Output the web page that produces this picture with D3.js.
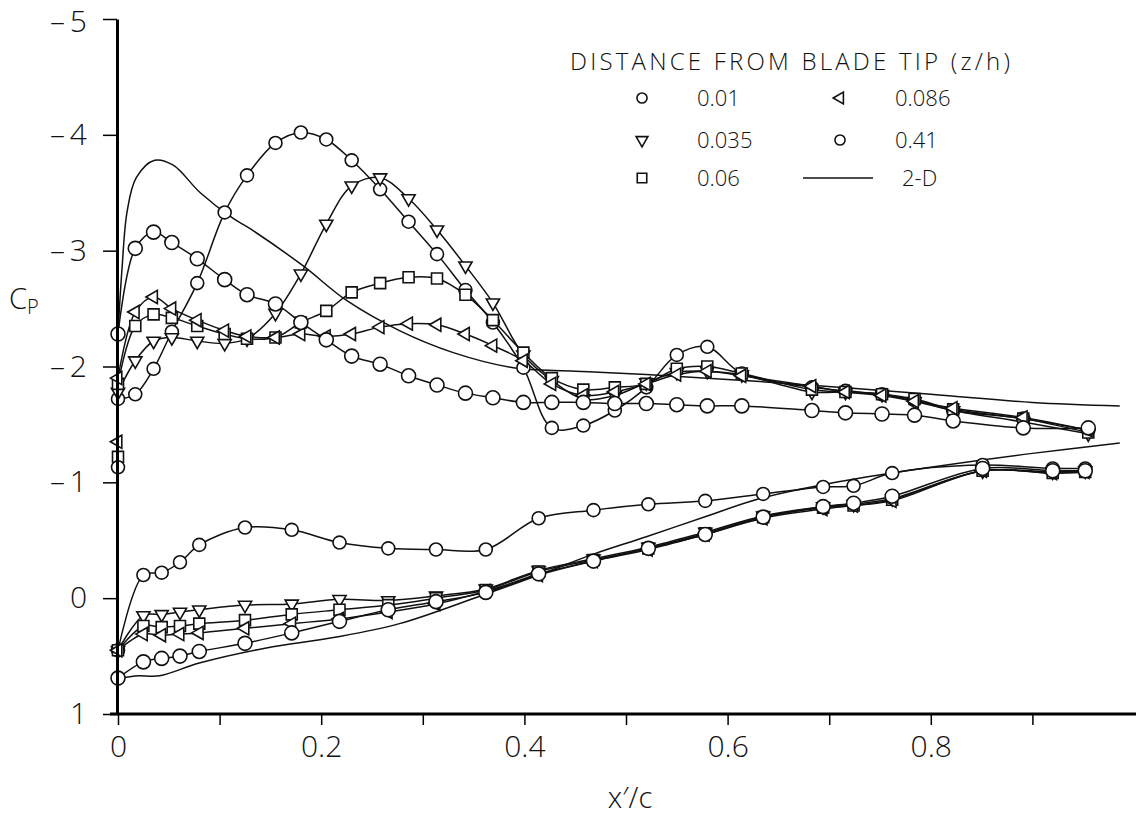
<!DOCTYPE html>
<html>
<head>
<meta charset="utf-8">
<script src="https://cdn.jsdelivr.net/npm/d3@7"></script>
<style>
  body { margin: 0; background: #fff; }
  svg text { font-family: "Open Sans", "DejaVu Sans", sans-serif; font-weight: 300; fill: #111; }
</style>
</head>
<body>
<div id="chart"></div>
<script>
// ---- data ----
const xTickValues = [0, 0.1, 0.2, 0.3, 0.4, 0.5, 0.6, 0.7, 0.8, 0.9];
const xTickLabels = ["0", "0.2", "0.4", "0.6", "0.8"];
const yTickValues = [-5, -4, -3, -2, -1, 0, 1];

// suction side stations
const upperX = [0, 0.017, 0.035, 0.053, 0.078, 0.105, 0.127, 0.155, 0.18, 0.205, 0.23, 0.258, 0.286, 0.314, 0.342, 0.369, 0.399, 0.427, 0.458, 0.489, 0.52, 0.55, 0.58, 0.614, 0.683, 0.716, 0.752, 0.784, 0.822, 0.891, 0.955];
const cp001Upper = [-1.72, -1.76, -1.98, -2.3, -2.72, -3.33, -3.65, -3.93, -4.02, -3.96, -3.78, -3.53, -3.25, -2.97, -2.66, -2.38, -1.99, -1.47, -1.49, -1.62, -1.82, -2.1, -2.17, -1.94, -1.82, -1.79, -1.76, -1.71, -1.62, -1.55, -1.45];
const cp035Upper = [-1.78, -2.05, -2.22, -2.25, -2.22, -2.2, -2.24, -2.46, -2.8, -3.23, -3.56, -3.63, -3.45, -3.18, -2.87, -2.55, -2.1, -1.88, -1.72, -1.75, -1.86, -1.95, -1.96, -1.93, -1.78, -1.78, -1.76, -1.7, -1.62, -1.52, -1.42];
const cp06Upper = [-1.85, -2.35, -2.45, -2.42, -2.35, -2.28, -2.24, -2.25, -2.38, -2.48, -2.64, -2.72, -2.77, -2.76, -2.62, -2.4, -2.12, -1.9, -1.8, -1.82, -1.85, -1.98, -2.0, -1.94, -1.8, -1.78, -1.76, -1.72, -1.63, -1.55, -1.43];
const cp086Upper = [-1.9, -2.47, -2.6, -2.5, -2.4, -2.31, -2.26, -2.25, -2.28, -2.26, -2.28, -2.34, -2.37, -2.36, -2.28, -2.18, -2.05, -1.85, -1.75, -1.78, -1.85, -1.93, -1.96, -1.92, -1.83, -1.78, -1.75, -1.7, -1.64, -1.56, -1.45];
const cp41Upper = [-2.28, -3.02, -3.16, -3.07, -2.93, -2.75, -2.62, -2.54, -2.38, -2.23, -2.09, -2.02, -1.92, -1.84, -1.77, -1.73, -1.69, -1.69, -1.69, -1.68, -1.68, -1.67, -1.66, -1.66, -1.62, -1.6, -1.59, -1.58, -1.53, -1.47, -1.47];

// pressure side stations
const lowerX = [0, 0.025, 0.043, 0.061, 0.08, 0.125, 0.171, 0.218, 0.266, 0.313, 0.362, 0.414, 0.468, 0.522, 0.578, 0.635, 0.694, 0.724, 0.762, 0.851, 0.92, 0.952];
const cp001Lower = [0.45, -0.2, -0.22, -0.31, -0.46, -0.61, -0.59, -0.48, -0.43, -0.42, -0.42, -0.69, -0.76, -0.81, -0.84, -0.9, -0.96, -0.97, -1.08, -1.15, -1.12, -1.12];
const cp035Lower = [0.45, 0.15, 0.14, 0.12, 0.1, 0.06, 0.05, 0.01, 0.02, -0.02, -0.08, -0.24, -0.34, -0.44, -0.57, -0.71, -0.79, -0.81, -0.86, -1.1, -1.09, -1.1];
const cp06Lower = [0.45, 0.24, 0.25, 0.24, 0.22, 0.19, 0.14, 0.1, 0.06, 0.0, -0.07, -0.23, -0.33, -0.43, -0.56, -0.7, -0.78, -0.8, -0.85, -1.1, -1.08, -1.09];
const cp086Lower = [0.45, 0.31, 0.32, 0.31, 0.3, 0.26, 0.22, 0.18, 0.12, 0.05, -0.06, -0.2, -0.32, -0.42, -0.55, -0.69, -0.77, -0.8, -0.84, -1.1, -1.08, -1.09];
const cp41Lower = [0.69, 0.55, 0.52, 0.5, 0.46, 0.39, 0.3, 0.2, 0.1, 0.03, -0.05, -0.21, -0.32, -0.43, -0.55, -0.7, -0.79, -0.82, -0.88, -1.12, -1.1, -1.1];

// 2-D curve (no symbols)
const twoDUpperX = [0, 0.004, 0.009, 0.018, 0.036, 0.054, 0.081, 0.113, 0.13, 0.182, 0.225, 0.277, 0.33, 0.389, 0.45, 0.52, 0.632, 0.8, 0.9, 0.986];
const twoDUpperCp = [-2.28, -2.85, -3.34, -3.63, -3.78, -3.74, -3.5, -3.28, -3.19, -2.87, -2.57, -2.31, -2.12, -1.99, -1.96, -1.93, -1.87, -1.76, -1.69, -1.66];
const twoDLowerX = [0, 0.01, 0.02, 0.041, 0.08, 0.146, 0.212, 0.277, 0.36, 0.414, 0.468, 0.52, 0.58, 0.632, 0.7, 0.8, 0.9, 0.986];
const twoDLowerCp = [0.69, 0.68, 0.67, 0.67, 0.56, 0.43, 0.34, 0.22, -0.03, -0.2, -0.38, -0.53, -0.71, -0.86, -0.99, -1.13, -1.25, -1.34];

// loose symbols sitting on the leading edge
const leShapes = ["left", "square", "circle"];
const leCp = [-1.35, -1.22, -1.13];

const seriesNames = ["0.01", "0.035", "0.06", "0.086", "0.41"];
const seriesShapes = ["circle", "down", "square", "left", "circle"];
const upperCps = [cp001Upper, cp035Upper, cp06Upper, cp086Upper, cp41Upper];
const lowerCps = [cp001Lower, cp035Lower, cp06Lower, cp086Lower, cp41Lower];

// ---- chart ----
const W = 1136, H = 816;
const svg = d3.select("#chart").append("svg")
    .attr("width", W)
    .attr("height", H);

const x = d3.scaleLinear().domain([0, 1]).range([118, 1134]);
const y = d3.scaleLinear().domain([-5, 1]).range([19, 714]);

const line = d3.line()
    .x(d => x(d[0]))
    .y(d => y(d[1]))
    .curve(d3.curveCatmullRom.alpha(0.5));

function symbolPath(shape, big) {
    if (shape === "circle") return d3.symbol(d3.symbolCircle, Math.PI * (big ? 49 : 42))();
    if (shape === "square") return d3.symbol(d3.symbolSquare, big ? 144 : 121)();
    return d3.symbol(d3.symbolTriangle, big ? 95 : 75)();
}
function symbolRotate(shape) {
    if (shape === "down") return 180;
    if (shape === "left") return -90;
    return 0;
}

// 2-D lines
[[twoDUpperX, twoDUpperCp], [twoDLowerX, twoDLowerCp]].forEach(([xs, cps]) => {
    svg.append("path")
        .datum(xs.map((v, i) => [v, cps[i]]))
        .attr("fill", "none")
        .attr("stroke", "#111")
        .attr("stroke-width", 1.5)
        .attr("d", line);
});

// measured lines
seriesNames.forEach((name, k) => {
    [[upperX, upperCps[k]], [lowerX, lowerCps[k]]].forEach(([xs, cps]) => {
        svg.append("path")
            .datum(xs.map((v, i) => [v, cps[i]]))
            .attr("fill", "none")
            .attr("stroke", "#111")
            .attr("stroke-width", 1.5)
            .attr("d", line);
    });
});

// symbols
seriesNames.forEach((name, k) => {
    const shape = seriesShapes[k];
    const pts = upperX.map((v, i) => [v, upperCps[k][i]])
        .concat(lowerX.map((v, i) => [v, lowerCps[k][i]]));
    svg.append("g").selectAll("path")
        .data(pts)
        .enter()
        .append("path")
        .attr("d", symbolPath(shape, name === "0.41"))
        .attr("transform", d => `translate(${x(d[0])},${y(d[1])}) rotate(${symbolRotate(shape)})`)
        .attr("fill", "#fff")
        .attr("stroke", "#111")
        .attr("stroke-width", 1.6);
});

svg.append("g").selectAll("path")
    .data(leShapes.map((s, i) => [s, leCp[i]]))
    .enter()
    .append("path")
    .attr("d", d => symbolPath(d[0], false))
    .attr("transform", d => `translate(${x(0)},${y(d[1])}) rotate(${symbolRotate(d[0])})`)
    .attr("fill", "#fff")
    .attr("stroke", "#111")
    .attr("stroke-width", 1.6);

// axes
const xAxis = svg.append("g")
    .attr("transform", `translate(0,${y(1)})`)
    .call(d3.axisBottom(x)
        .tickValues(xTickValues)
        .tickSize(11)
        .tickSizeOuter(0)
        .tickFormat(d => {
            const i = xTickLabels.indexOf(String(+d.toFixed(1)));
            return i >= 0 ? xTickLabels[i] : "";
        }));
xAxis.select(".domain").attr("stroke-width", 3).attr("d", `M110,0H1136`);
xAxis.selectAll(".tick line").attr("stroke-width", 1.5);
xAxis.selectAll(".tick text")
    .attr("y", 22)
    .style("font-size", "30px");

const yAxis = svg.append("g")
    .attr("transform", `translate(${x(0) - 1},0)`)
    .call(d3.axisLeft(y)
        .tickValues(yTickValues)
        .tickSize(14)
        .tickSizeOuter(0)
        .tickFormat(d => d < 0 ? "\u2013\u2009" + Math.abs(d) : String(d)));
yAxis.select(".domain").attr("stroke-width", 3);
yAxis.selectAll(".tick line").attr("stroke-width", 1.5);
yAxis.selectAll(".tick text")
    .attr("x", -30)
    .attr("dy", d => d === -5 ? "0.42em" : "0.32em")
    .style("font-size", "30px");

// axis titles
const cp = svg.append("text")
    .attr("x", 9)
    .attr("y", 309)
    .style("font-size", "29px")
    .text("C");
cp.append("tspan")
    .attr("dy", 5)
    .style("font-size", "20px")
    .text("P");

svg.append("text")
    .attr("x", 630)
    .attr("y", 808)
    .attr("text-anchor", "middle")
    .style("font-size", "29px")
    .text("x\u2032/c");

// legend
svg.append("text")
    .attr("x", 570)
    .attr("y", 70)
    .attr("textLength", 440)
    .attr("lengthAdjust", "spacing")
    .style("font-size", "24px")
    .text("DISTANCE FROM BLADE TIP (z/h)");

const legendItems = [
    { shape: "circle", label: "0.01", cx: 642, cy: 98 },
    { shape: "down", label: "0.035", cx: 642, cy: 140 },
    { shape: "square", label: "0.06", cx: 642, cy: 178 },
    { shape: "left", label: "0.086", cx: 840, cy: 98 },
    { shape: "circle", label: "0.41", cx: 840, cy: 140 },
    { shape: "line", label: "2-D", cx: 838, cy: 178 }
];
legendItems.forEach(it => {
    if (it.shape === "line") {
        svg.append("line")
            .attr("x1", it.cx - 35).attr("x2", it.cx + 35)
            .attr("y1", it.cy).attr("y2", it.cy)
            .attr("stroke", "#111").attr("stroke-width", 1.5);
    } else {
        svg.append("path")
            .attr("d", d3.symbol(it.shape === "circle" ? d3.symbolCircle : it.shape === "square" ? d3.symbolSquare : d3.symbolTriangle,
                it.shape === "circle" ? 80 : it.shape === "square" ? 90 : 60)())
            .attr("transform", `translate(${it.cx},${it.cy}) rotate(${symbolRotate(it.shape)})`)
            .attr("fill", "#fff")
            .attr("stroke", "#111")
            .attr("stroke-width", 1.6);
    }
    svg.append("text")
        .attr("x", it.cx + (it.shape === "line" ? 64 : 55))
        .attr("y", it.cy + 8)
        .style("font-size", "22px")
        .text(it.label);
});
</script>
</body>
</html>
